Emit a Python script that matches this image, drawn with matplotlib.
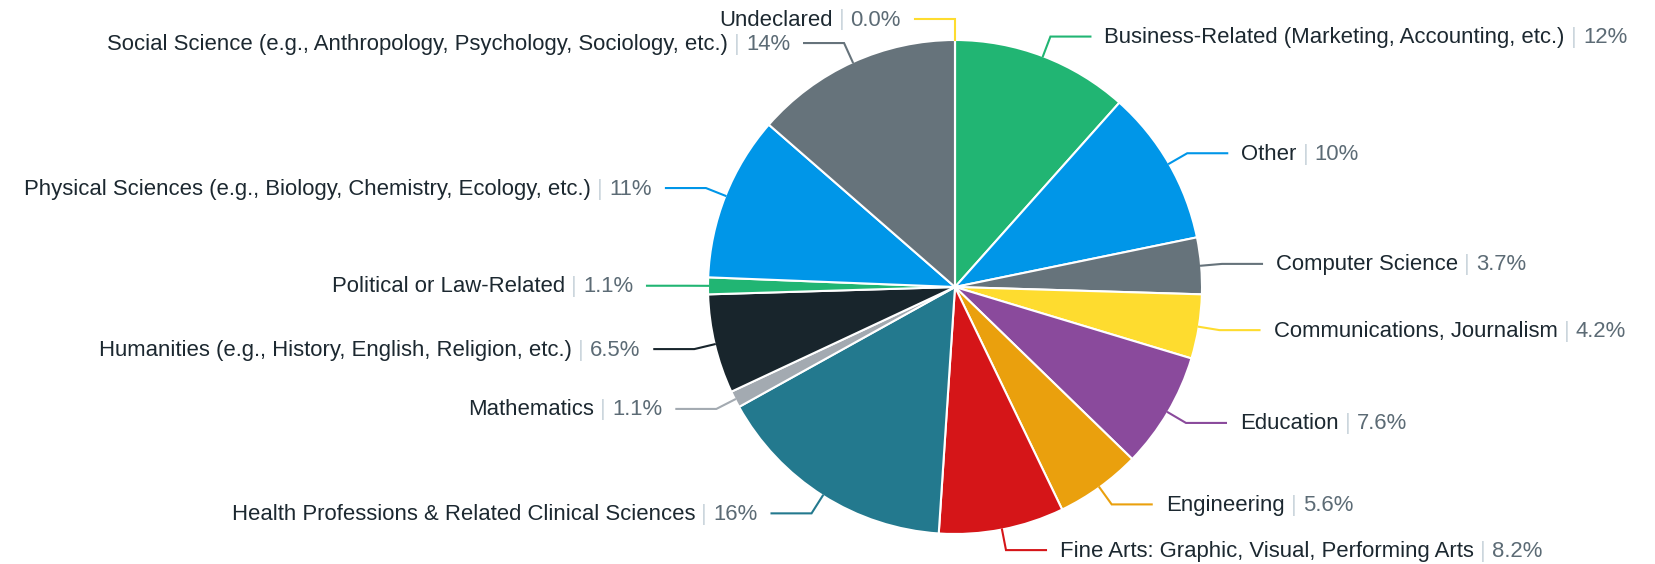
import numpy as np
import matplotlib
matplotlib.use("Agg")
import matplotlib.pyplot as plt
from matplotlib.offsetbox import TextArea, HPacker, AnnotationBbox

# slices, clockwise from 12 o'clock
majors = [
    "Business-Related (Marketing, Accounting, etc.)",
    "Other",
    "Computer Science",
    "Communications, Journalism",
    "Education",
    "Engineering",
    "Fine Arts: Graphic, Visual, Performing Arts",
    "Health Professions & Related Clinical Sciences",
    "Mathematics",
    "Humanities (e.g., History, English, Religion, etc.)",
    "Political or Law-Related",
    "Physical Sciences (e.g., Biology, Chemistry, Ecology, etc.)",
    "Social Science (e.g., Anthropology, Psychology, Sociology, etc.)",
    "Undeclared",
]
shares = [11.6, 10.2, 3.7, 4.2, 7.6, 5.6, 8.2, 15.9, 1.1, 6.5, 1.1, 10.8, 13.6, 0.0]
colors = ["#21b573", "#0096e8", "#66737b", "#fedc2f", "#8a4a9c", "#eaa00d", "#d51518",
          "#23798e", "#a3aab1", "#18252c", "#21b573", "#0096e8", "#66737b", "#fedc2f"]

W, H = 1656, 564
cx, cy, r = 955, 277, 247          # pie centre / radius in pixels (y up)
R = r + 21                          # label circle
fs = 22.2 * 72 / 100                # ~22px text
font = "Liberation Sans"

fig = plt.figure(figsize=(W / 100, H / 100), dpi=100)
ax = fig.add_axes([0, 0, 1, 1])

ax.pie(shares, colors=colors, startangle=90, counterclock=False,
       center=(cx, cy), radius=r,
       wedgeprops=dict(edgecolor="white", linewidth=1.5))
ax.set_xlim(0, W)
ax.set_ylim(0, H)
ax.set_aspect("equal")
ax.axis("off")

total = sum(shares)
cum = 0.0
for name, v, c in zip(majors, shares, colors):
    mid = np.deg2rad((cum + v / 2) / total * 360)
    cum += v
    left = np.rad2deg(mid) >= 180
    sx, sy = cx + r * np.sin(mid), cy + r * np.cos(mid)
    dy = R * np.cos(mid)
    ly = cy + dy
    xc = np.sqrt(max(R**2 - dy**2, 0))
    sign = -1 if left else 1
    bx = cx + sign * xc
    ax.plot([sx, bx, bx + sign * 40], [sy, ly, ly], color=c, lw=1.5,
            solid_joinstyle="miter", zorder=1)

    pct = f"{v:.0f}%" if v >= 10 else f"{v:.1f}%"
    parts = [
        TextArea(name, textprops=dict(color="#1c2830", fontsize=fs, family=font)),
        TextArea("|", textprops=dict(color="#ccd6dd", fontsize=fs, family=font)),
        TextArea(pct, textprops=dict(color="#5c6b75", fontsize=fs, family=font)),
    ]
    box = HPacker(children=parts, align="baseline", pad=0, sep=4.5)
    ab = AnnotationBbox(box, (bx + sign * 54, ly - 1), xycoords="data",
                        box_alignment=(1 if left else 0, 0.5), frameon=False, pad=0)
    ax.add_artist(ab)

fig.savefig("out.png", dpi=100, facecolor="white")
